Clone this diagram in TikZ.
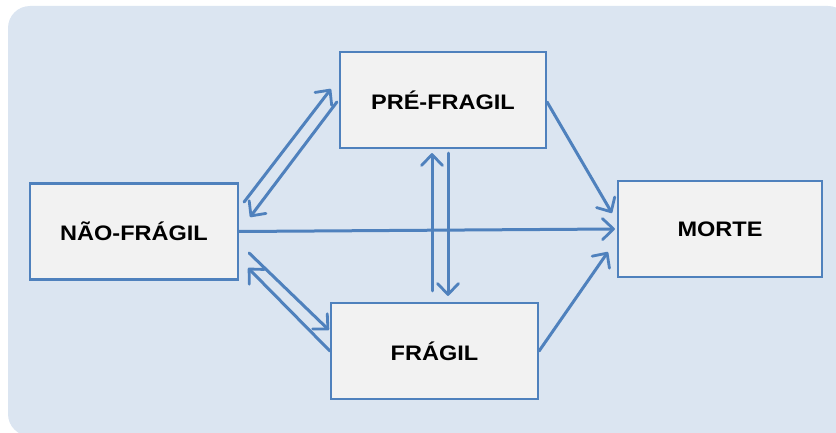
\documentclass[tikz,border=0pt]{standalone}
\usepackage{fontspec}
\newfontfamily\boxfont{Liberation Sans}[FakeStretch=1.12]
\usepackage{tikz}
\usetikzlibrary{calc,arrows.meta}
\definecolor{fundo}{HTML}{DBE5F1}
\definecolor{caixa}{HTML}{F2F2F2}
\definecolor{azul}{HTML}{4F81BD}
\tikzset{
	estado/.style={draw=azul, fill=caixa, line width=2.2pt, minimum height=96pt, inner sep=0pt, font=\boxfont\bfseries\fontsize{21}{25}\selectfont},
	seta/.style={draw=azul, line width=3pt, line cap=round, -{Straight Barb[length=11pt,width=21pt,line width=2.8pt,round]}}
}

\begin{document}
\begin{tikzpicture}[x=1pt, y=1pt]
			%%%%% START %%%%%
			
			\useasboundingbox (0, 0) rectangle (836, 432);
			\clip (0, 0) rectangle (836, 432);
			\fill[fundo, rounded corners=22pt] (8, -4) rectangle (850, 426);
			
			\node[estado, minimum width=206pt] (pf) at (443, 332) {PRÉ-FRAGIL};
			\node[estado, minimum width=208pt] (nf) at (134, 200.5) {NÃO-FRÁGIL};
			\node[estado, minimum width=207pt] (fr) at (434.5, 81) {FRÁGIL};
			\node[estado, minimum width=204pt] (mo) at (720, 203) {MORTE};
			
			\draw[seta] ($(nf.east)+(5, 29.5)$) -- ($(pf.west)+(-8, 11)$);
			\draw[seta] ($(pf.west)+(-2, -2)$) -- ($(nf.east)+(11, 14.5)$);
			\draw[seta] (nf.east) -- ($(mo.west)+(-2, 0)$);
			\draw[seta] (fr.west) -- ($(nf.east)+(9, -36.5)$);
			\draw[seta] ($(nf.east)+(10, -21.5)$) -- ($(fr.west)+(-1, 21)$);
			
			\draw[seta] ($(fr.north)+(-2.5, 11)$) -- ($(pf.south)+(-11, -4)$);
			\draw[seta] ($(pf.south)+(5, -4)$) -- ($(fr.north)+(13.5, 6)$);
			
			\draw[seta] ($(pf.east)+(0, -2)$) -- ($(mo.west)+(-5, 16)$);
			\draw[seta] (fr.east) -- ($(mo.west)+(-9, -23)$);
			
			%%%%% END %%%%%
\end{tikzpicture}
\end{document}
